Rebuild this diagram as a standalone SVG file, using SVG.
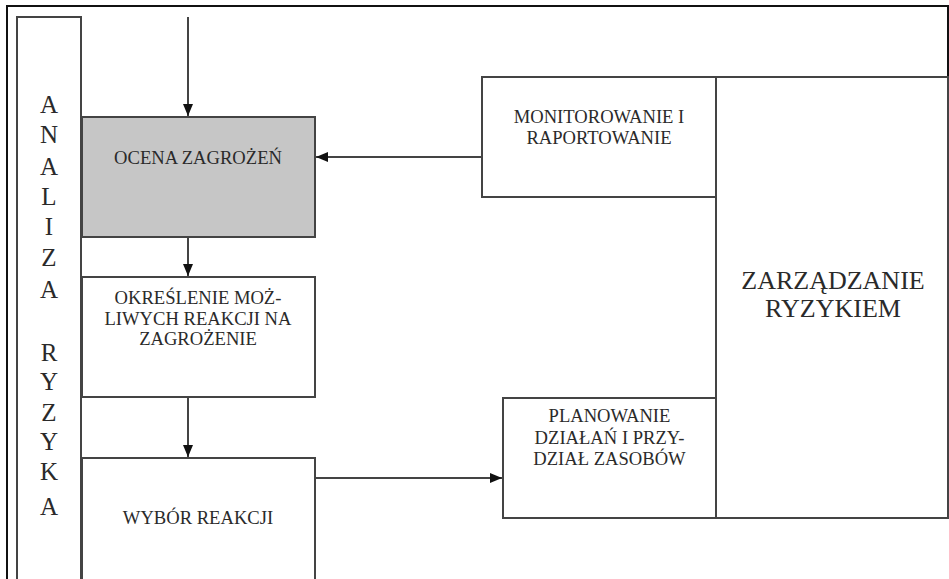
<svg xmlns="http://www.w3.org/2000/svg" width="949" height="579" viewBox="0 0 949 579">
<style>
.box{fill:#fff;stroke:#444;stroke-width:2}
.shade{fill:#c6c6c6}
.t{font-family:'Liberation Serif','Times New Roman','DejaVu Serif',serif;font-size:18.6px;fill:#2a2a2a;text-anchor:middle}
.big{font-size:26px}
.col{font-size:25px}
.c{stroke:#444;stroke-width:2;fill:none}
</style>
<defs>
<marker id="ah" viewBox="0 0 12 10" refX="12" refY="5" markerWidth="12" markerHeight="10" markerUnits="userSpaceOnUse" orient="auto">
<path d="M0,0 L12,5 L0,10 Z" fill="#111"/>
</marker>
</defs>
<rect width="949" height="579" fill="#fff"/>
<g id="frame">
<path d="M7,590 L7,6 L948,6 L948,518" fill="none" stroke="#111" stroke-width="2"/>
</g>
<g id="analiza">
<rect class="box" x="17" y="17" width="64" height="570"/>
<text class="t col" x="49" y="113">A</text>
<text class="t col" x="49" y="143">N</text>
<text class="t col" x="49" y="175">A</text>
<text class="t col" x="49" y="205">L</text>
<text class="t col" x="49" y="235">I</text>
<text class="t col" x="49" y="266">Z</text>
<text class="t col" x="49" y="298">A</text>
<text class="t col" x="49" y="361">R</text>
<text class="t col" x="49" y="390">Y</text>
<text class="t col" x="49" y="421">Z</text>
<text class="t col" x="49" y="450">Y</text>
<text class="t col" x="49" y="480">K</text>
<text class="t col" x="49" y="515">A</text>
</g>
<g id="ocena">
<rect class="box shade" x="82" y="117" width="233" height="120"/>
<text class="t" x="198" y="164">OCENA ZAGROŻEŃ</text>
</g>
<g id="okreslenie">
<rect class="box" x="82" y="277" width="233" height="120"/>
<text class="t" x="198" y="304">OKREŚLENIE MOŻ-</text>
<text class="t" x="198" y="324.5">LIWYCH REAKCJI NA</text>
<text class="t" x="198" y="345">ZAGROŻENIE</text>
</g>
<g id="wybor">
<rect class="box" x="82" y="458" width="233" height="130"/>
<text class="t" x="198" y="524">WYBÓR REAKCJI</text>
</g>
<g id="monitorowanie">
<rect class="box" x="482" y="77" width="234" height="120"/>
<text class="t" x="599" y="123">MONITOROWANIE I</text>
<text class="t" x="599" y="144">RAPORTOWANIE</text>
</g>
<g id="planowanie">
<rect class="box" x="503" y="398" width="213" height="120"/>
<text class="t" x="609.5" y="422">PLANOWANIE</text>
<text class="t" x="609.5" y="444">DZIAŁAŃ I PRZY-</text>
<text class="t" x="609.5" y="465">DZIAŁ ZASOBÓW</text>
</g>
<g id="zarzadzanie">
<rect class="box" x="716" y="77" width="232" height="441"/>
<text class="t big" x="833" y="289">ZARZĄDZANIE</text>
<text class="t big" x="833" y="317">RYZYKIEM</text>
</g>
<g id="connectors">
<line class="c" x1="188" y1="17" x2="188" y2="116" marker-end="url(#ah)"/>
<line class="c" x1="188" y1="237" x2="188" y2="276" marker-end="url(#ah)"/>
<line class="c" x1="188" y1="397" x2="188" y2="457" marker-end="url(#ah)"/>
<line class="c" x1="482" y1="157" x2="316" y2="157" marker-end="url(#ah)"/>
<line class="c" x1="315" y1="478" x2="502" y2="478" marker-end="url(#ah)"/>
</g>
</svg>
